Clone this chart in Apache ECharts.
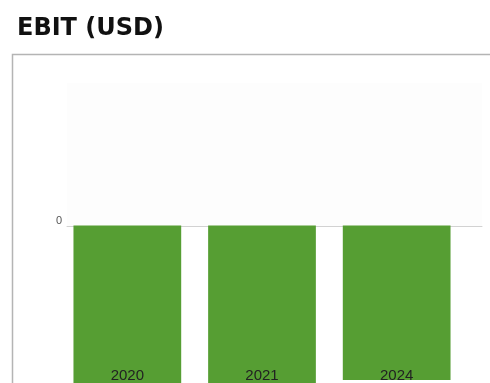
<!DOCTYPE html>
<html>
<head>
<meta charset="utf-8">
<script src="https://cdn.jsdelivr.net/npm/echarts@6/dist/echarts.min.js"></script>
<style>
  html, body { margin: 0; padding: 0; background: #ffffff; }
  #chart { width: 490px; height: 383px; }
</style>
</head>
<body>
<div id="chart"></div>
<script>
// Data (EBIT, USD millions)
const categories = ['2020', '2021', '2024'];
const ebitValues = [-17.0, -16.8, -15.5];
const yTickLabels = ['0'];
const titleText = 'EBIT (USD)';

const yMax = 14.3;
const yMin = -13.9;

const chart = echarts.init(document.getElementById('chart'), null, { renderer: 'canvas' });

chart.setOption({
  animation: false,
  backgroundColor: '#ffffff',
  title: {
    text: titleText,
    left: 12,
    top: 12,
    textStyle: { fontFamily: 'DejaVu Sans', fontWeight: 'bold', fontSize: 24, color: '#111111' }
  },
  graphic: [{
    type: 'rect',
    shape: { x: 12.5, y: 54.5, width: 600, height: 500 },
    style: { fill: 'none', stroke: '#b4b4b4', lineWidth: 1.5 },
    z: 0
  }],
  grid: [
    { left: 60, right: 26, top: 83, bottom: 18, containLabel: false },
    { left: 67, right: 8, top: 83, bottom: 157, show: true, backgroundColor: '#fdfdfd', borderWidth: 0 }
  ],
  xAxis: [
    {
      type: 'category', gridIndex: 0, data: categories, z: 10,
      axisLine: { show: false }, axisTick: { show: false }, splitLine: { show: false },
      axisLabel: { margin: 4, fontSize: 15, color: '#222222', fontFamily: 'Liberation Sans' }
    },
    {
      type: 'value', gridIndex: 1, min: 0, max: 1,
      axisLine: { show: true, lineStyle: { color: '#d2d2d2', width: 1 } },
      axisTick: { show: false }, axisLabel: { show: false }, splitLine: { show: false }
    }
  ],
  yAxis: [
    {
      type: 'value', gridIndex: 0, min: yMin, max: yMax,
      axisLine: { show: false }, axisTick: { show: false },
      axisLabel: { show: false }, splitLine: { show: false }
    },
    {
      type: 'value', gridIndex: 1, min: 0, max: yMax,
      axisLine: { show: false }, axisTick: { show: false }, splitLine: { show: false },
      axisLabel: {
        customValues: [0],
        formatter: function (v) { return v === 0 ? yTickLabels[0] : ''; },
        margin: 5, verticalAlign: 'bottom', fontSize: 11, color: '#555555',
        fontFamily: 'Liberation Sans'
      }
    }
  ],
  series: [{
    type: 'bar',
    xAxisIndex: 0, yAxisIndex: 0,
    data: ebitValues,
    barCategoryGap: '20%',
    clip: false,
    itemStyle: { color: '#569e33' },
    z: 2
  }]
});
</script>
</body>
</html>
